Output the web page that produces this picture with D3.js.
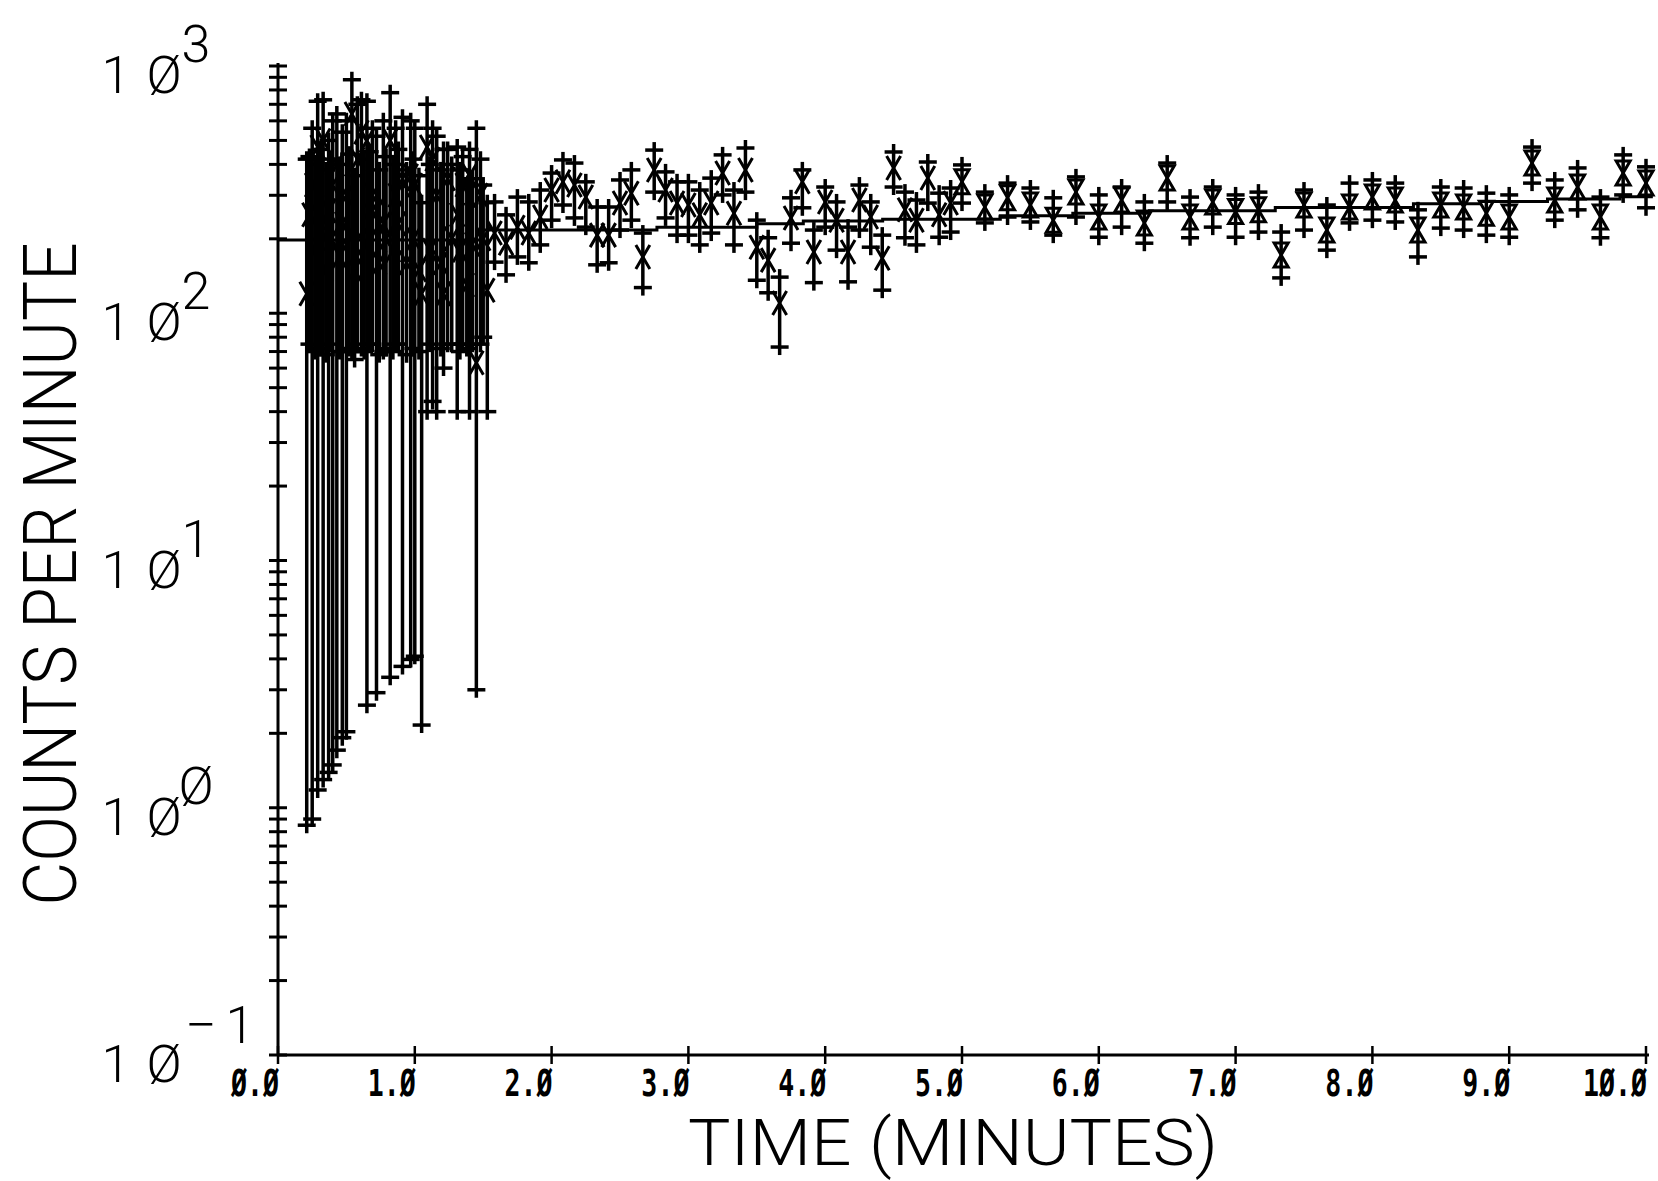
<!DOCTYPE html>
<meta charset="utf-8">
<script src="https://d3js.org/d3.v7.min.js"></script>
<style>
  body { margin: 0; background: #fff; }
  svg { display: block; }
</style>
<div id="chart"></div>
<script>
  // early counts, tall bars: [minutes, counts/min, lower end, upper end]
  var earlyPoints = [
    [0.21, 120, 0.85, 420], [0.25, 330, 0.9, 560], [0.29, 470, 1.18, 720],
    [0.33, 500, 1.3, 730], [0.37, 260, 1.39, 500], [0.40, 330, 1.49, 600],
    [0.43, 400, 1.71, 640], [0.47, 230, 1.92, 540], [0.50, 300, 2.03, 600],
    [0.54, 640, 70, 880], [0.58, 420, 75, 700], [0.61, 540, 72, 730],
    [0.65, 500, 2.6, 720], [0.69, 300, 75, 560], [0.72, 260, 2.92, 520],
    [0.77, 230, 70, 600], [0.82, 500, 3.37, 780], [0.86, 300, 75, 560],
    [0.91, 350, 3.73, 620], [0.97, 360, 3.98, 600], [1.00, 330, 4.1, 560],
    [1.05, 120, 2.16, 280], [1.09, 470, 40, 700], [1.13, 420, 44, 560],
    [1.16, 300, 40, 520], [1.21, 120, 60, 460], [1.24, 350, 75, 460],
    [1.31, 250, 40, 470], [1.35, 330, 75, 430], [1.40, 360, 40, 460],
    [1.45, 63, 3.0, 560], [1.48, 300, 75, 420], [1.53, 124, 40, 280]
  ];

  // early counts in between, shorter bars
  var earlyMid = [
    [0.23, 250, 75, 430], [0.27, 180, 70, 400], [0.31, 220, 72, 460],
    [0.35, 150, 68, 380], [0.39, 200, 75, 420], [0.45, 170, 70, 400],
    [0.52, 210, 72, 440], [0.56, 150, 65, 360], [0.63, 190, 70, 420],
    [0.67, 230, 75, 450], [0.74, 160, 68, 380], [0.79, 200, 72, 430],
    [0.84, 180, 70, 400], [0.88, 230, 75, 460], [0.94, 160, 68, 380],
    [0.99, 200, 72, 420], [1.03, 150, 70, 360], [1.11, 180, 75, 400],
    [1.19, 160, 72, 380], [1.27, 200, 75, 400], [1.33, 180, 70, 380],
    [1.38, 130, 72, 330], [1.42, 190, 75, 350], [1.50, 200, 80, 330]
  ];

  // later counts: [minutes, counts/min, lower end, upper end]
  var latePoints = [
    [1.583, 211, 161, 282], [1.667, 192, 143, 250], [1.75, 223, 169, 295],
    [1.833, 211, 160, 282], [1.917, 245, 189, 315], [2.0, 315, 238, 369],
    [2.083, 340, 274, 417], [2.167, 330, 243, 405], [2.25, 295, 223, 340],
    [2.333, 207, 157, 269], [2.417, 207, 160, 269], [2.5, 279, 217, 346],
    [2.583, 306, 238, 380], [2.667, 169, 127, 211], [2.75, 380, 309, 457],
    [2.833, 315, 243, 373], [2.917, 279, 207, 340], [3.0, 274, 207, 340],
    [3.083, 250, 189, 315], [3.167, 279, 211, 352], [3.25, 369, 301, 437],
    [3.333, 254, 189, 315], [3.417, 380, 309, 466], [3.5, 185, 136, 238],
    [3.583, 164, 121, 202], [3.667, 110, 73, 140], [3.75, 243, 192, 293],
    [3.833, 340, 267, 380], [3.917, 177, 133, 217], [4.0, 282, 223, 324],
    [4.083, 238, 180, 282], [4.167, 177, 134, 223], [4.25, 287, 217, 330],
    [4.333, 245, 185, 282], [4.417, 167, 124, 207], [4.5, 387, 324, 449],
    [4.583, 262, 202, 309], [4.667, 238, 189, 287], [4.75, 352, 279, 409],
    [4.833, 250, 203, 306], [4.917, 279, 213, 321], [5.0, 340, 279, 398],
    [5.167, 269, 232, 309], [5.333, 293, 245, 336], [5.5, 274, 234, 321],
    [5.667, 238, 207, 293], [5.833, 309, 245, 356], [6.0, 245, 203, 301],
    [6.167, 287, 223, 324], [6.333, 232, 192, 282], [6.5, 352, 282, 405],
    [6.667, 245, 202, 295], [6.833, 282, 223, 324], [7.0, 258, 203, 301],
    [7.167, 262, 213, 309], [7.333, 172, 139, 213], [7.5, 274, 217, 315],
    [7.667, 217, 180, 274], [7.833, 269, 232, 336], [8.0, 295, 238, 346],
    [8.167, 287, 234, 336], [8.333, 217, 169, 262], [8.5, 274, 221, 324],
    [8.667, 269, 217, 321], [8.833, 254, 207, 306], [9.0, 245, 203, 301],
    [9.167, 405, 336, 470], [9.333, 287, 238, 346], [9.5, 324, 262, 387],
    [9.667, 245, 202, 295], [9.833, 369, 301, 437], [10.0, 336, 267, 391]
  ];

  // fitted curve, drawn as steps: [minutes, counts/min]
  var fitSteps = [
    [0, 198], [1.48, 217], [2.77, 223], [3.5, 230], [3.84, 236], [4.42, 240],
    [5.28, 248], [5.81, 254], [6.37, 260], [7.29, 268], [8.3, 277], [8.79, 283],
    [9.28, 290], [9.81, 296], [10.05, 296]
  ];

  var xTickValues = [0, 1, 2, 3, 4, 5, 6, 7, 8, 9, 10];
  var xTickLabels = ["Ø.Ø", "1.Ø", "2.Ø", "3.Ø", "4.Ø", "5.Ø", "6.Ø", "7.Ø", "8.Ø", "9.Ø", "1Ø.Ø"];
  var decadeExp = [3, 2, 1, 0, -1];
  var decadeSup = ["3", "2", "1", "Ø", "1"];

  var W = 1658, H = 1181;
  var thinFont = "Roboto, 'Open Sans', 'DejaVu Sans', sans-serif";

  var svg = d3.select("#chart").append("svg")
      .attr("width", W)
      .attr("height", H);
  svg.append("rect").attr("width", W).attr("height", H).attr("fill", "#fff");

  var x = d3.scaleLinear().domain([0, 10]).range([278, 1646]);
  var y = d3.scaleLog().domain([0.1, 1000]).range([1055, 66]);

  // axes
  var axes = svg.append("g").attr("stroke", "#000").attr("stroke-width", 3);
  axes.append("line")
      .attr("x1", x(0)).attr("x2", x(0))
      .attr("y1", y(1000) - 3).attr("y2", y(0.1));
  axes.append("line")
      .attr("x1", x(0)).attr("x2", x(10) + 3)
      .attr("y1", y(0.1)).attr("y2", y(0.1));

  axes.selectAll(".ytick")
      .data(y.ticks())
      .enter().append("line")
      .attr("x1", x(0) - 9).attr("x2", x(0) + 9)
      .attr("y1", function (d) { return y(d); })
      .attr("y2", function (d) { return y(d); })
      .attr("stroke-width", 3);

  axes.selectAll(".xtick")
      .data(xTickValues)
      .enter().append("line")
      .attr("x1", function (d) { return x(d); })
      .attr("x2", function (d) { return x(d); })
      .attr("y1", y(0.1) - 9).attr("y2", y(0.1) + 9)
      .attr("stroke-width", 2.5);

  // x tick labels, narrow bold digits
  svg.append("g").selectAll("text")
      .data(xTickValues)
      .enter().append("text")
      .attr("transform", function (d) { return "translate(" + (x(d) + 1) + ",1096) scale(0.7,1)"; })
      .attr("text-anchor", "end")
      .attr("font-family", "'DejaVu Sans Mono', monospace")
      .attr("font-weight", "bold")
      .attr("font-size", 38)
      .text(function (d, i) { return xTickLabels[i]; });

  // decade labels on the y axis
  var dec = svg.append("g")
      .attr("font-family", thinFont)
      .attr("font-weight", 300)
      .attr("font-size", 52)
      .attr("text-anchor", "middle");
  decadeExp.forEach(function (e, i) {
    var yy = y(Math.pow(10, e));
    dec.append("text").attr("x", 116).attr("y", yy + 27).text("1");
    dec.append("text").attr("x", 164).attr("y", yy + 27).text("Ø");
    if (e < 0) {
      dec.append("text").attr("x", 201).attr("y", yy - 12)
          .attr("textLength", 32).attr("lengthAdjust", "spacingAndGlyphs").text("−");
      dec.append("text").attr("x", 240).attr("y", yy - 12).text(decadeSup[i]);
    } else {
      dec.append("text").attr("x", 196).attr("y", yy - 4).text(decadeSup[i]);
    }
  });

  // axis titles
  svg.append("text")
      .attr("transform", "translate(76,574) rotate(-90)")
      .attr("text-anchor", "middle")
      .attr("font-family", thinFont)
      .attr("font-weight", 300)
      .attr("font-size", 74)
      .attr("textLength", 663)
      .attr("lengthAdjust", "spacingAndGlyphs")
      .text("COUNTS PER MINUTE");

  svg.append("text")
      .attr("x", 953)
      .attr("y", 1165)
      .attr("text-anchor", "middle")
      .attr("font-family", thinFont)
      .attr("font-weight", 300)
      .attr("font-size", 64)
      .attr("textLength", 530)
      .attr("lengthAdjust", "spacingAndGlyphs")
      .text("TIME (MINUTES)");

  // fitted line
  var fitLine = d3.line()
      .x(function (d) { return x(d[0]); })
      .y(function (d) { return y(d[1]); })
      .curve(d3.curveStepAfter);
  svg.append("path")
      .datum(fitSteps)
      .attr("d", fitLine)
      .attr("fill", "none")
      .attr("stroke", "#000")
      .attr("stroke-width", 3);

  var xMark = "M-7,-12L7,12M7,-12L-7,12";
  var hourglass = "M-7,-12H7L-7,12H7Z";

  function drawPoints(data, useHourglass) {
    var g = svg.append("g")
        .attr("stroke", "#000")
        .attr("fill", "none")
        .attr("stroke-width", 3.5);
    var pt = g.selectAll("g")
        .data(data)
        .enter().append("g")
        .attr("transform", function (d) { return "translate(" + x(d[0]) + ",0)"; });
    pt.append("line")
        .attr("y1", function (d) { return y(d[2]) + 8; })
        .attr("y2", function (d) { return y(d[3]) - 8; });
    pt.append("line")
        .attr("x1", -9).attr("x2", 9)
        .attr("y1", function (d) { return y(d[2]); })
        .attr("y2", function (d) { return y(d[2]); });
    pt.append("line")
        .attr("x1", -9).attr("x2", 9)
        .attr("y1", function (d) { return y(d[3]); })
        .attr("y2", function (d) { return y(d[3]); });
    pt.append("path")
        .attr("stroke-width", 3)
        .attr("transform", function (d) { return "translate(0," + y(d[1]) + ")"; })
        .attr("d", function (d) { return useHourglass && d[0] >= 5 ? hourglass : xMark; });
  }

  drawPoints(earlyMid, false);
  drawPoints(earlyPoints, false);
  drawPoints(latePoints, true);
</script>
